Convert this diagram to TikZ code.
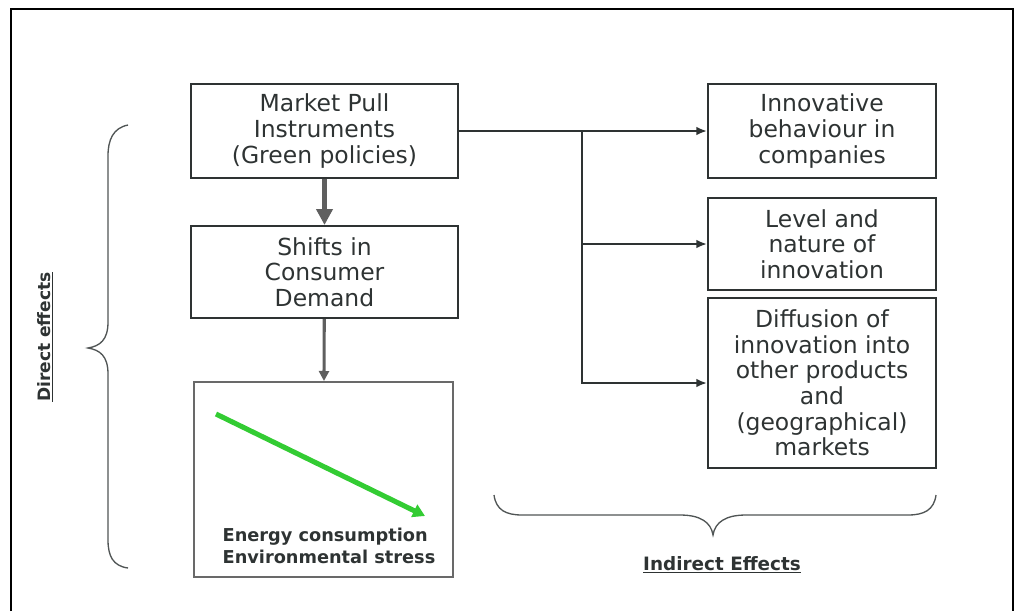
\documentclass[tikz,border=0pt]{standalone}
\usepackage{fontspec}
\setmainfont{DejaVu Sans}
\usepackage{xcolor}
\usepackage{tikz}
\usetikzlibrary{arrows.meta,positioning}
\definecolor{ink}{RGB}{46,51,51}
\definecolor{shaft}{RGB}{95,95,95}
\definecolor{paleframe}{RGB}{105,105,105}
\definecolor{dropgreen}{RGB}{51,204,51}
\definecolor{bracegray}{RGB}{80,85,85}

\tikzset{
  box/.style={draw=ink, line width=1.5pt, align=center, text=ink, inner sep=2pt,
    font=\fontsize{17.6}{19.2}\selectfont},
  link/.style={draw=ink, line width=1.5pt, -{Latex[length=8pt,width=6.5pt]}},
  tag/.style={text=ink, font=\bfseries\fontsize{13.2}{15}\selectfont}
}

\begin{document}
\begin{tikzpicture}[x=0.75pt,y=-0.75pt]
  \useasboundingbox (0,0) rectangle (1016,611);
  % outer frame (bottom edge runs off the page)
  \draw[line width=1.8pt] (11,611) -- (11,9) -- (1013,9) -- (1013,611);
  % left column
  \node[box, minimum width=267*0.75pt, minimum height=94*0.75pt] (pull) at (324.5,131)
    {Market Pull\\Instruments\\(Green policies)};
  \node[box, minimum width=267*0.75pt, minimum height=92*0.75pt] (shifts) at (324.5,272)
    {Shifts in\\Consumer\\Demand};
  \node[draw=paleframe, line width=1.5pt, minimum width=259*0.75pt, minimum height=195*0.75pt]
    (energy) at (323.5,479.5) {};
  % right column
  \node[box, minimum width=228*0.75pt, minimum height=94*0.75pt] (innov) at (822,131)
    {Innovative\\behaviour in\\companies};
  \node[box, minimum width=228*0.75pt, minimum height=92*0.75pt] (level) at (822,244)
    {Level and\\nature of\\innovation};
  \node[box, minimum width=228*0.75pt, minimum height=170*0.75pt] (diff) at (822,383)
    {Diffusion of\\innovation into\\other products\\and\\(geographical)\\markets};
  % down arrows
  \draw[shaft, line width=3.8pt, -{Triangle[length=12pt,width=12pt]}] (pull) -- (shifts);
  \draw[shaft, line width=2.3pt, -{Triangle[length=7.5pt,width=7.5pt]}] (shifts) -- (energy);
  % falling curve inside the bottom box
  \coordinate (gstart) at (216,414);
  \coordinate (gend) at (425,516);
  \draw[dropgreen, line width=3.8pt, -{Triangle[length=9pt,width=10pt]}] (gstart) -- (gend);
  \node[text=ink, align=left, font=\bfseries\fontsize{13.3}{16.5}\selectfont] (stress) at (329,546)
    {Energy consumption\\Environmental stress};
  % branching links
  \coordinate (split) at (582,131);
  \draw[link] (pull.east) -- (innov.west);
  \draw[link] (split) |- (diff.west);
  \draw[link] (split |- level.west) -- (level.west);
  % braces
  \draw[bracegray, line width=1pt] (128,125) .. controls (113,128) and (108,140) .. (108,156)
    -- (108,322) .. controls (108,340) and (100,346) .. (88,348)
    .. controls (100,350) and (108,356) .. (108,374)
    -- (108,540) .. controls (108,556) and (113,566) .. (128,568);
  \draw[bracegray, line width=1pt] (494,495) .. controls (496,510) and (506,515) .. (522,515)
    -- (680,515) .. controls (700,515) and (711,522) .. (713,535)
    .. controls (715,522) and (726,515) .. (746,515)
    -- (908,515) .. controls (924,515) and (934,510) .. (936,495);
  \node[tag, rotate=90, font=\bfseries\fontsize{12.8}{15}\selectfont] (direct) at (45,337)
    {\underline{Direct effects}};
  \node[tag, font=\bfseries\fontsize{13.8}{15}\selectfont] (indirect) at (722,565)
    {\underline{Indirect Effects}};
\end{tikzpicture}
\end{document}
